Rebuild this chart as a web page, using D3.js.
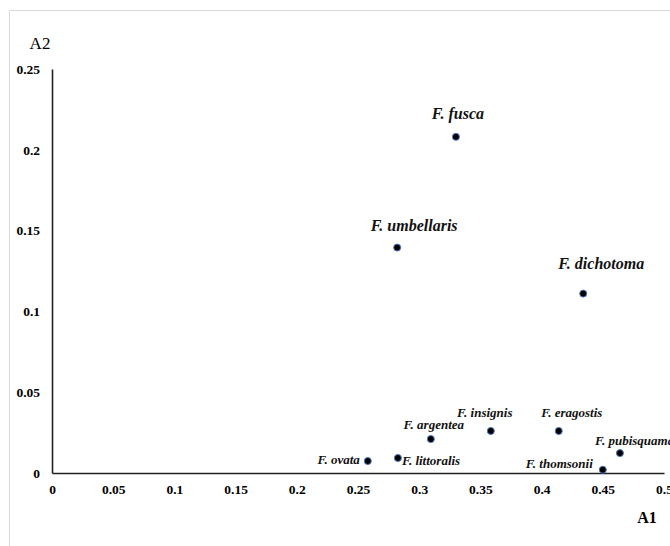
<!DOCTYPE html>
<html>
<head>
<meta charset="utf-8">
<script src="https://cdn.jsdelivr.net/npm/d3@7"></script>
<style>
  body { margin: 0; background: #fff; }
  svg { display: block; }
  text { font-family: "Liberation Serif", "Times New Roman", serif; }
</style>
</head>
<body>
<div id="chart"></div>
<script>
// species and their coordinates (A1, A2)
var species = ["F. fusca", "F. umbellaris", "F. dichotoma", "F. insignis", "F. eragostis",
               "F. argentea", "F. pubisquama", "F. thomsonii", "F. littoralis", "F. ovata"];
var a1Values = [0.330, 0.282, 0.434, 0.3585, 0.414, 0.3095, 0.464, 0.450, 0.2826, 0.258];
var a2Values = [0.208, 0.1395, 0.111, 0.026, 0.026, 0.021, 0.0123, 0.002, 0.0093, 0.0074];

var xTicks = [0, 0.05, 0.1, 0.15, 0.2, 0.25, 0.3, 0.35, 0.4, 0.45, 0.5];
var xTickLabels = ["0", "0.05", "0.1", "0.15", "0.2", "0.25", "0.3", "0.35", "0.4", "0.45", "0.5"];
var yTicks = [0, 0.05, 0.1, 0.15, 0.2, 0.25];
var yTickLabels = ["0", "0.05", "0.1", "0.15", "0.2", "0.25"];

// where each label sits relative to its dot: dx, dy, anchor, font size
var labelPlace = {
  "F. fusca":      [2, -18, "middle", 16],
  "F. umbellaris": [17, -17, "middle", 16],
  "F. dichotoma":  [18, -25, "middle", 16],
  "F. insignis":   [-6, -14, "middle", 13],
  "F. eragostis":  [13, -14, "middle", 13],
  "F. argentea":   [3, -10, "middle", 13],
  "F. pubisquama": [-25, -8, "start", 13],
  "F. thomsonii":  [-10, -2, "end", 13],
  "F. littoralis": [4, 7, "start", 13],
  "F. ovata":      [-8, 3, "end", 13]
};

var data = species.map(function(s, i) {
  return {name: s, a1: a1Values[i], a2: a2Values[i]};
});

var width = 670, height = 546;
var margin = {top: 69, right: 6, bottom: 73, left: 52};

var svg = d3.select("#chart").append("svg")
  .attr("width", width)
  .attr("height", height);

// light frame of the chart area
svg.append("path")
  .attr("d", "M9.5," + height + "V10.5H" + width)
  .attr("fill", "none")
  .attr("stroke", "#d9d9d9")
  .attr("stroke-width", 1);

var x = d3.scaleLinear().domain([0, 0.5]).range([margin.left, width - margin.right]);
var y = d3.scaleLinear().domain([0, 0.25]).range([height - margin.bottom, margin.top]);

var xAxis = svg.append("g")
  .attr("transform", "translate(0," + y(0) + ")")
  .call(d3.axisBottom(x).tickValues(xTicks)
    .tickFormat(function(d, i) { return xTickLabels[i]; })
    .tickSize(0).tickPadding(11));

var yAxis = svg.append("g")
  .attr("transform", "translate(" + x(0) + ",0)")
  .call(d3.axisLeft(y).tickValues(yTicks)
    .tickFormat(function(d, i) { return yTickLabels[i]; })
    .tickSize(0).tickPadding(11));

svg.selectAll(".domain")
  .attr("stroke", "#222")
  .attr("stroke-width", 1.6);

svg.selectAll(".tick text")
  .attr("font-family", "Liberation Serif, serif")
  .attr("font-weight", "bold")
  .attr("font-size", 13.5)
  .attr("fill", "#000");

yAxis.selectAll(".tick text").attr("dx", -1);

svg.append("text")
  .attr("x", 40)
  .attr("y", 49)
  .attr("text-anchor", "middle")
  .attr("font-size", 17)
  .text("A2");

svg.append("text")
  .attr("x", 647)
  .attr("y", 523)
  .attr("text-anchor", "middle")
  .attr("font-size", 16)
  .attr("font-weight", "bold")
  .text("A1");

svg.selectAll(".dot")
  .data(data)
  .enter().append("circle")
  .attr("class", "dot")
  .attr("cx", function(d) { return x(d.a1); })
  .attr("cy", function(d) { return y(d.a2); })
  .attr("r", 3.5)
  .attr("fill", "#000")
  .attr("stroke", "#4a78c2")
  .attr("stroke-width", 1);

svg.selectAll(".lbl")
  .data(data)
  .enter().append("text")
  .attr("class", "lbl")
  .attr("x", function(d) { return x(d.a1) + labelPlace[d.name][0]; })
  .attr("y", function(d) { return y(d.a2) + labelPlace[d.name][1]; })
  .attr("text-anchor", function(d) { return labelPlace[d.name][2]; })
  .attr("font-size", function(d) { return labelPlace[d.name][3]; })
  .attr("font-weight", "bold")
  .attr("font-style", "italic")
  .attr("fill", "#111")
  .text(function(d) { return d.name; });
</script>
</body>
</html>
